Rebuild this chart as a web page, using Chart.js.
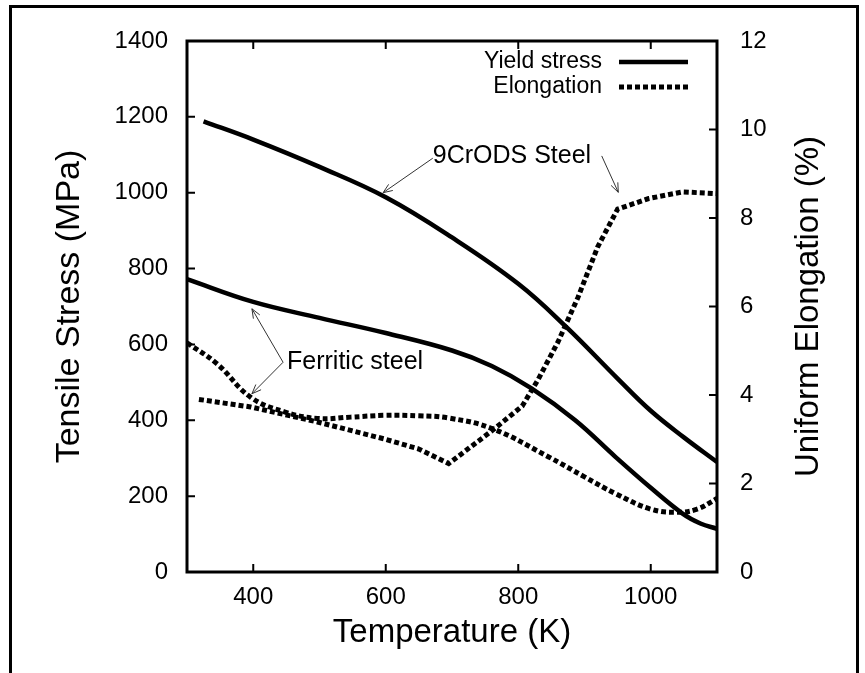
<!DOCTYPE html>
<html>
<head>
<meta charset="utf-8">
<script src="https://cdn.jsdelivr.net/npm/chart.js@4.4.1/dist/chart.umd.min.js"></script>
<style>
  body { margin: 0; background: #fff; }
  #wrap { position: relative; width: 865px; height: 673px; }
  #frame { position: absolute; left: 9px; top: 5px; width: 844px; height: 680px;
           border: 3px solid #000; border-bottom: none; pointer-events: none; }
</style>
</head>
<body>
<div id="wrap">
  <canvas id="myChart" width="865" height="673"></canvas>
  <div id="frame"></div>
</div>
<script>
// temperatures (K) and values
const odsYieldT = [325, 400, 500, 600, 700, 800, 872, 950, 1000, 1050, 1100]
const odsYield = [1188, 1140, 1068, 988, 882, 760, 647, 510, 425, 355, 290]

const ferYieldT = [300, 400, 500, 600, 700, 760, 820, 886, 947, 1000, 1048, 1075, 1100]
const ferYield = [772, 712, 670, 630, 584, 543, 484, 400, 303, 222, 154, 128, 114]

const odsElongT = [318, 396, 497, 597, 650, 695, 761, 806, 830, 860, 890, 920, 950, 997, 1048, 1100]
const odsElong = [3.90, 3.73, 3.39, 3.01, 2.78, 2.45, 3.20, 3.75, 4.35, 5.2, 6.2, 7.35, 8.2, 8.44, 8.59, 8.55]

const ferElongT = [300, 345, 396, 447, 497, 547, 597, 650, 695, 761, 846, 900, 947, 1000, 1040, 1070, 1100]
const ferElong = [5.18, 4.71, 3.95, 3.62, 3.47, 3.50, 3.54, 3.53, 3.48, 3.24, 2.60, 2.15, 1.77, 1.42, 1.35, 1.42, 1.66]

const xTicks = [400, 600, 800, 1000]
const yTicks = [0, 200, 400, 600, 800, 1000, 1200, 1400]
const y2Ticks = [0, 2, 4, 6, 8, 10, 12]

const legendItems = [
  { label: 'Yield stress', dash: [] },
  { label: 'Elongation', dash: [5, 3] }
]

// annotation text at [T, MPa], arrows from -> to in the same units
const notes = [
  { text: '9CrODS Steel', at: [671, 1097], arrows: [[[671, 1091], [596, 1000]], [[926, 1097], [951, 1001]]] },
  { text: 'Ferritic steel', at: [451, 553], arrows: [[[445, 553], [398, 694]], [[445, 553], [398, 470]]] }
]

const FONT = '"Liberation Sans", Arial, Helvetica, sans-serif'
const pts = (xs, ys) => xs.map((x, i) => ({ x: x, y: ys[i] }))

const solid = { borderColor: '#000', borderWidth: 4.5, pointRadius: 0, fill: false, tension: 0.4 }
const dashed = { borderColor: '#000', borderWidth: 5, borderDash: [5, 3], borderCapStyle: 'butt', pointRadius: 0, fill: false }

const extras = {
  id: 'extras',
  afterDatasetsDraw(chart) {
    const ctx = chart.ctx
    const a = chart.chartArea
    const sx = chart.scales.x, sy = chart.scales.y, sy2 = chart.scales.y2
    ctx.save()
    // box
    ctx.strokeStyle = '#000'
    ctx.lineWidth = 3
    ctx.strokeRect(a.left, a.top, a.right - a.left, a.bottom - a.top)
    // inward ticks
    ctx.lineWidth = 2
    ctx.beginPath()
    xTicks.forEach(v => {
      const px = sx.getPixelForValue(v)
      ctx.moveTo(px, a.bottom); ctx.lineTo(px, a.bottom - 8)
      ctx.moveTo(px, a.top); ctx.lineTo(px, a.top + 8)
    })
    yTicks.forEach(v => {
      const py = sy.getPixelForValue(v)
      ctx.moveTo(a.left, py); ctx.lineTo(a.left + 8, py)
    })
    y2Ticks.forEach(v => {
      const py = sy2.getPixelForValue(v)
      ctx.moveTo(a.right, py); ctx.lineTo(a.right - 8, py)
    })
    ctx.stroke()

    // right axis title, reading bottom to top
    ctx.fillStyle = '#000'
    ctx.font = '33px ' + FONT
    ctx.textAlign = 'center'
    ctx.textBaseline = 'middle'
    ctx.save()
    ctx.translate(sy2.right - 56, (a.top + a.bottom) / 2)
    ctx.rotate(-Math.PI / 2)
    ctx.fillText('Uniform Elongation (%)', 0, 0)
    ctx.restore()

    // legend
    ctx.font = '23px ' + FONT
    ctx.textAlign = 'right'
    legendItems.forEach((it, i) => {
      const y = a.top + 21 + i * 25
      ctx.fillText(it.label, a.right - 115, y)
      ctx.beginPath()
      ctx.setLineDash(it.dash)
      ctx.lineWidth = it.dash.length ? 5 : 4.5
      ctx.moveTo(a.right - 98, y)
      ctx.lineTo(a.right - 29, y)
      ctx.stroke()
    })
    ctx.setLineDash([])

    // annotations
    ctx.font = '25px ' + FONT
    ctx.textAlign = 'left'
    ctx.strokeStyle = '#333'
    ctx.lineWidth = 1
    notes.forEach(n => {
      ctx.fillText(n.text, sx.getPixelForValue(n.at[0]), sy.getPixelForValue(n.at[1]))
      n.arrows.forEach(([from, to]) => {
        const x0 = sx.getPixelForValue(from[0]), y0 = sy.getPixelForValue(from[1])
        const x1 = sx.getPixelForValue(to[0]), y1 = sy.getPixelForValue(to[1])
        const ang = Math.atan2(y1 - y0, x1 - x0)
        ctx.beginPath()
        ctx.moveTo(x0, y0); ctx.lineTo(x1, y1)
        ctx.moveTo(x1 - 10 * Math.cos(ang - 0.38), y1 - 10 * Math.sin(ang - 0.38))
        ctx.lineTo(x1, y1)
        ctx.lineTo(x1 - 10 * Math.cos(ang + 0.38), y1 - 10 * Math.sin(ang + 0.38))
        ctx.stroke()
      })
    })
    ctx.restore()
  }
}

const tickFont = { family: FONT, size: 24 }
const titleFont = { family: FONT, size: 33 }
const noGrid = { display: false, drawTicks: false }
const plain = v => String(v)

const ctx = document.getElementById('myChart')
// eslint-disable-next-line no-unused-vars
const myChart = new Chart(ctx, {
  type: 'line',
  data: {
    datasets: [
      Object.assign({ label: 'ODS yield', data: pts(odsYieldT, odsYield), yAxisID: 'y' }, solid),
      Object.assign({ label: 'Ferritic yield', data: pts(ferYieldT, ferYield), yAxisID: 'y' }, solid),
      Object.assign({ label: 'ODS elongation', data: pts(odsElongT, odsElong), yAxisID: 'y2', tension: 0 }, dashed),
      Object.assign({ label: 'Ferritic elongation', data: pts(ferElongT, ferElong), yAxisID: 'y2', tension: 0.4 }, dashed)
    ]
  },
  options: {
    responsive: false,
    animation: false,
    layout: { padding: { top: 41, left: 0, right: 0, bottom: 0 } },
    plugins: { legend: { display: false }, tooltip: { enabled: false } },
    scales: {
      x: {
        type: 'linear', min: 300, max: 1100,
        afterBuildTicks: s => { s.ticks = xTicks.map(v => ({ value: v })) },
        afterFit: s => { s.height = 101 },
        grid: noGrid, border: { display: false },
        ticks: { font: tickFont, color: '#000', padding: 11, maxRotation: 0, callback: plain },
        title: { display: true, text: 'Temperature (K)', font: titleFont, color: '#000', padding: { top: 0, bottom: 20 } }
      },
      y: {
        position: 'left', min: 0, max: 1400,
        afterBuildTicks: s => { s.ticks = yTicks.map(v => ({ value: v })) },
        afterFit: s => { s.width = 187 },
        grid: noGrid, border: { display: false },
        ticks: { font: tickFont, color: '#000', padding: 19, callback: plain },
        title: { display: true, text: 'Tensile Stress (MPa)', font: { family: FONT, size: 34 }, color: '#000', padding: { top: 49, bottom: 0 } }
      },
      y2: {
        position: 'right', min: 0, max: 12,
        afterBuildTicks: s => { s.ticks = y2Ticks.map(v => ({ value: v })) },
        afterFit: s => { s.width = 148 },
        grid: noGrid, border: { display: false },
        ticks: { font: tickFont, color: '#000', padding: 23, callback: plain },
        title: { display: false }
      }
    }
  },
  plugins: [extras]
})
</script>
</body>
</html>
